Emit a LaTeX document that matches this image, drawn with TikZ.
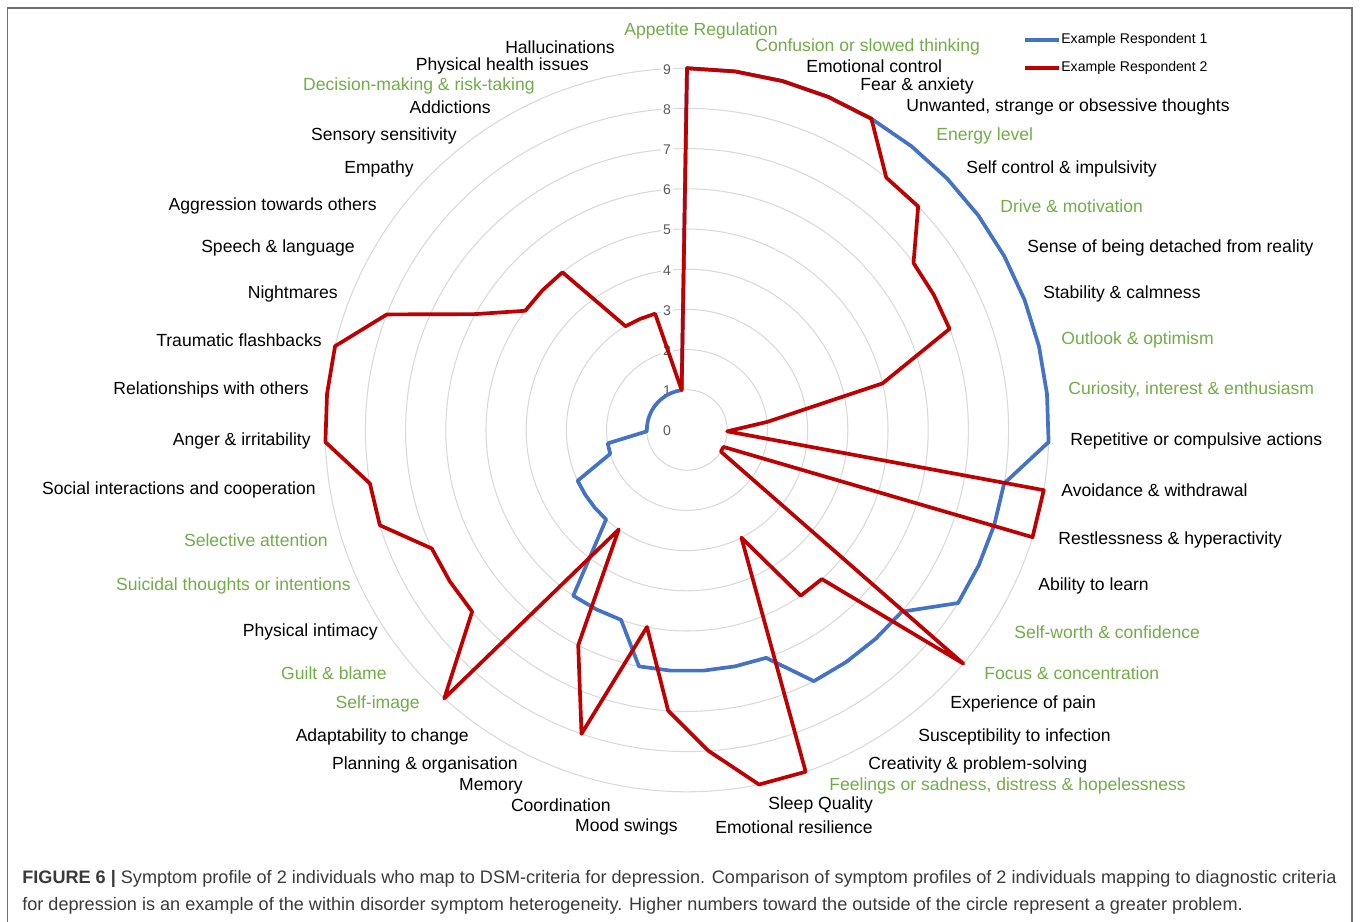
\documentclass[tikz,border=0pt]{standalone}
\usepackage{fontspec}
\setmainfont{Liberation Sans}
\usetikzlibrary{positioning}
\definecolor{resblue}{HTML}{4472C4}
\definecolor{resred}{HTML}{C00000}
\definecolor{lgreen}{HTML}{70AD47}
\definecolor{gridgray}{HTML}{D9D9D9}
\definecolor{axgray}{HTML}{595959}
\definecolor{capgray}{HTML}{3A3A3A}
\definecolor{framegray}{HTML}{6E6E6E}

\begin{document}
\begin{tikzpicture}[x=0.02cm, y=-0.02cm, font=\fontsize{10}{12}\selectfont,
  gridring/.style={gridgray, line width=0.6pt},
  dataline/.style={line width=2.1pt, line join=round},
  axlabel/.style={inner sep=0pt}]

	\def\d{40.2};
	\def\n{47};

	\useasboundingbox (0,0) rectangle (1360,922);
	\draw[framegray, line width=0.8pt] (7.5,922) -- (7.5,8) -- (1352,8) -- (1352,922);

	\begin{scope}[shift={(687,430)}]
	\foreach \v in {1,...,9}
		\draw[gridring] (0,0) circle (\v*\d);
	\foreach \v in {0,...,9}
		\node[fill=white, inner sep=1pt, text=axgray, font=\fontsize{8}{10}\selectfont] (t\v) at (-20,{-\v*\d+1}) {\v};

	% example respondent 1
	\foreach \v [count=\i from 0] in {9,9,9,9,9,9,9,9,9,9,9,9,9,8,8,8,8,7,7,7,7,6,6,6,6,6,5,5,5,3,3,3,3,2,2,1,1,1,1,1,1,1,1,1,1,1,1}
		\coordinate (b\i) at ({360/\n*\i-90}:{\v*\d});
	% example respondent 2
	\foreach \v [count=\i from 0] in {9,9,9,9,9,8,8,7,7,7,5,2,1,9,9,1,1,9,5,5,3,9,9,8,7,5,8,6,3,9,7,7,7,8,8,9,9,9,8,6,5,5,5,3,3,3,1}
		\coordinate (r\i) at ({360/\n*\i-90}:{\v*\d});

	\draw[dataline, resblue] (b0) \foreach \i in {1,...,46}{ -- (b\i)} -- cycle;
	\draw[dataline, resred] (r0) \foreach \i in {1,...,46}{ -- (r\i)} -- cycle;
	\end{scope}

	\foreach \x/\y/\anc/\col/\txt [count=\k from 0] in {
		701/31/center/lgreen/Appetite Regulation,
		755/47/west/lgreen/Confusion or slowed thinking,
		806/66/west/black/Emotional control,
		860/86/west/black/Fear \& anxiety,
		906/107/west/black/{Unwanted, strange or obsessive thoughts},
		936/136/west/lgreen/Energy level,
		966/169/west/black/Self control \& impulsivity,
		1000/206/west/lgreen/Drive \& motivation,
		1027/248/west/black/Sense of being detached from reality,
		1043/294/west/black/Stability \& calmness,
		1061/340/west/lgreen/Outlook \& optimism,
		1068/390/west/lgreen/{Curiosity, interest \& enthusiasm},
		1070/441/west/black/Repetitive or compulsive actions,
		1061/490/west/black/Avoidance \& withdrawal,
		1058/540/west/black/Restlessness \& hyperactivity,
		1038/586/west/black/Ability to learn,
		1014/632/west/lgreen/Self-worth \& confidence,
		984/673/west/lgreen/Focus \& concentration,
		950/704/west/black/Experience of pain,
		918/737/west/black/Susceptibility to infection,
		868/765/west/black/Creativity \& problem-solving,
		829/786/west/lgreen/{Feelings or sadness, distress \& hopelessness},
		768/805/west/black/Sleep Quality,
		715/827/west/black/Emotional resilience,
		678/827/east/black/Mood swings,
		611/805/east/black/Coordination,
		523/786/east/black/Memory,
		518/765/east/black/Planning \& organisation,
		469/737/east/black/Adaptability to change,
		420/704/east/lgreen/Self-image,
		387/673/east/lgreen/Guilt \& blame,
		378/632/east/black/Physical intimacy,
		351/586/east/lgreen/Suicidal thoughts or intentions,
		328/540/east/lgreen/Selective attention,
		316/490/east/black/Social interactions and cooperation,
		311/441/east/black/Anger \& irritability,
		309/390/east/black/Relationships with others,
		322/340/east/black/Traumatic flashbacks,
		338/294/east/black/Nightmares,
		355/248/east/black/Speech \& language,
		377/206/east/black/Aggression towards others,
		414/169/east/black/Empathy,
		457/136/east/black/Sensory sensitivity,
		491/107/east/black/Addictions,
		535/86/east/lgreen/Decision-making \& risk-taking,
		589/66/east/black/Physical health issues,
		615/47/east/black/Hallucinations}
		\node[axlabel, anchor=\anc, text=\col] (lab\k) at (\x,\y) {\txt};

	% legend
	\coordinate (l1) at (1025,40);
	\coordinate (l2) at (1025,68);
	\node[axlabel, anchor=west, font=\fontsize{8}{10}\selectfont] (leg1) at (1061,40) {Example Respondent 1};
	\node[axlabel, anchor=west, font=\fontsize{8}{10}\selectfont] (leg2) at (1061,68) {Example Respondent 2};
	\draw[dataline, resblue] (l1) -- ([xshift=-1pt]leg1.west);
	\draw[dataline, resred] (l2) -- ([xshift=-1pt]leg2.west);

	% caption
	\node[axlabel, anchor=west, text=capgray, font=\fontsize{10.3}{12}\selectfont] (cap1) at (22,879) {\textbf{FIGURE 6 |} Symptom profile of 2 individuals who map to DSM-criteria for depression. Comparison of symptom profiles of 2 individuals mapping to diagnostic criteria};
	\node[axlabel, anchor=west, text=capgray, font=\fontsize{10.3}{12}\selectfont] (cap2) at (22,906) {for depression is an example of the within disorder symptom heterogeneity. Higher numbers toward the outside of the circle represent a greater problem.};

\end{tikzpicture}
\end{document}
